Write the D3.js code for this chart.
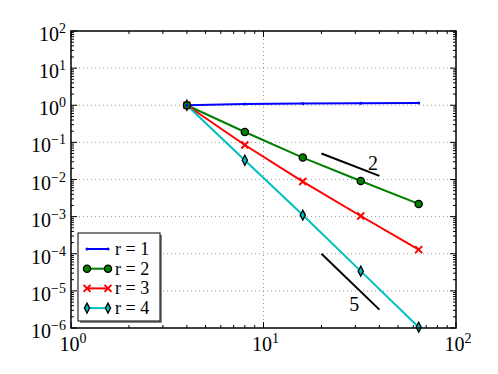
<!DOCTYPE html>
<html>
<head>
<meta charset="utf-8">
<script src="https://cdn.jsdelivr.net/npm/d3@7"></script>
<style>
  body { margin: 0; background: #fff; }
</style>
</head>
<body>
<div id="chart"></div>
<script>
// mesh sizes and errors
const hValues = [4, 8, 16, 32, 64];
const errR1 = [1, 1.08, 1.12, 1.14, 1.15];
const errR2 = [1, 0.19, 0.039, 0.0091, 0.0022];
const errR3 = [1, 0.085, 0.0088, 0.00104, 0.000129];
const errR4 = [1, 0.033, 0.0011, 0.000034, 0.00000105];
const seriesNames = ["r = 1", "r = 2", "r = 3", "r = 4"];
const xTicks = [1, 10, 100];
const yTicks = [1e-6, 1e-5, 1e-4, 1e-3, 1e-2, 1e-1, 1, 10, 100];
// reference slopes
const slope2X = [20, 40], slope2Y = [0.05, 0.0125];
const slope5X = [20, 40], slope5Y = [1e-4, 3.125e-6];
const slopeLabels = [{t: "2", x: 37, y: 0.028}, {t: "5", x: 29.6, y: 4.4e-6}];

const FONT = "'Liberation Serif', 'Times New Roman', serif";

let W = 498, H = 374;
let margin = {top: 31, right: 42, bottom: 46, left: 71};
let width = W - margin.left - margin.right;
let height = H - margin.top - margin.bottom;

let svg = d3.select("#chart").append("svg")
  .attr("width", W)
  .attr("height", H)
  .attr("font-family", FONT);

let x = d3.scaleLog().domain([1, 100]).range([0, width]);
let y = d3.scaleLog().domain([1e-6, 100]).range([height, 0]);

const g = svg.append("g").attr("transform", "translate(" + margin.left + "," + margin.top + ")");

// grid
g.append("g").selectAll("line").data(xTicks.slice(1, -1)).enter().append("line")
  .attr("x1", d => x(d)).attr("x2", d => x(d)).attr("y1", 0).attr("y2", height)
  .attr("stroke", "#999").attr("stroke-dasharray", "1,3");
g.append("g").selectAll("line").data(yTicks.slice(1, -1)).enter().append("line")
  .attr("y1", d => y(d)).attr("y2", d => y(d)).attr("x1", 0).attr("x2", width)
  .attr("stroke", "#999").attr("stroke-dasharray", "1,3");

// ticks (inward, all four sides)
let minorX = [], minorY = [];
for (let e = 0; e < 2; e++) for (let m = 2; m < 10; m++) minorX.push(m * Math.pow(10, e));
for (let e = -6; e < 2; e++) for (let m = 2; m < 10; m++) minorY.push(m * Math.pow(10, e));

const ticks = g.append("g").attr("stroke", "#000").attr("stroke-width", 1);
[[xTicks, 6], [minorX, 3]].forEach(([arr, len]) => {
  arr.forEach(v => {
    ticks.append("line").attr("x1", x(v)).attr("x2", x(v)).attr("y1", height).attr("y2", height - len);
    ticks.append("line").attr("x1", x(v)).attr("x2", x(v)).attr("y1", 0).attr("y2", len);
  });
});
[[yTicks, 6], [minorY, 3]].forEach(([arr, len]) => {
  arr.forEach(v => {
    ticks.append("line").attr("y1", y(v)).attr("y2", y(v)).attr("x1", 0).attr("x2", len);
    ticks.append("line").attr("y1", y(v)).attr("y2", y(v)).attr("x1", width).attr("x2", width - len);
  });
});

function expLabel(sel, v) {
  let e = Math.round(Math.log10(v));
  sel.append("tspan").text("10");
  sel.append("tspan").attr("dy", -8).attr("font-size", 14)
    .text(e < 0 ? "\u2212" + (-e) : e);
}

// y tick labels
yTicks.forEach(v => {
  let t = g.append("text").attr("x", -5).attr("y", y(v) + 10)
    .attr("text-anchor", "end").attr("font-size", 20);
  expLabel(t, v);
});
// x tick labels
xTicks.forEach(v => {
  let t = g.append("text").attr("x", x(v) + 2).attr("y", height + 23)
    .attr("text-anchor", "middle").attr("font-size", 20);
  expLabel(t, v);
});

// series
const allSeries = [
  {vals: errR1, color: "#0000ff", marker: "point"},
  {vals: errR2, color: "#008000", marker: "circle"},
  {vals: errR3, color: "#ff0000", marker: "x"},
  {vals: errR4, color: "#00bfbf", marker: "diamond"}
];

let line = d3.line().x(d => x(d[0])).y(d => y(d[1]));

function drawMarker(sel, type, color, cx, cy) {
  if (type === "point") {
    sel.append("circle").attr("cx", cx).attr("cy", cy).attr("r", 1.5).attr("fill", color);
  } else if (type === "circle") {
    sel.append("circle").attr("cx", cx).attr("cy", cy).attr("r", 3.6)
      .attr("fill", color).attr("stroke", "#000").attr("stroke-width", 1.3);
  } else if (type === "x") {
    let s = 3.5;
    sel.append("path").attr("d", `M${cx - s},${cy - s}L${cx + s},${cy + s}M${cx - s},${cy + s}L${cx + s},${cy - s}`)
      .attr("stroke", color).attr("stroke-width", 2);
  } else if (type === "diamond") {
    sel.append("path").attr("d", `M${cx},${cy - 5}L${cx + 2.6},${cy}L${cx},${cy + 5}L${cx - 2.6},${cy}Z`)
      .attr("fill", color).attr("stroke", "#000").attr("stroke-width", 1.3);
  }
}

allSeries.forEach(s => {
  let pts = hValues.map((h, i) => [h, s.vals[i]]);
  g.append("path").attr("d", line(pts)).attr("fill", "none")
    .attr("stroke", s.color).attr("stroke-width", 2);
});
allSeries.slice().reverse().forEach(s => {
  let mg = g.append("g");
  hValues.forEach((h, i) => drawMarker(mg, s.marker, s.color, x(h), y(s.vals[i])));
});

// slope reference lines
[[slope2X, slope2Y], [slope5X, slope5Y]].forEach(([sx, sy]) => {
  g.append("path").attr("d", line(sx.map((v, i) => [v, sy[i]])))
    .attr("stroke", "#000").attr("stroke-width", 2);
});
slopeLabels.forEach(l => {
  g.append("text").attr("x", x(l.x)).attr("y", y(l.y) + 7)
    .attr("text-anchor", "middle").attr("font-size", 20).text(l.t);
});

// frame
g.append("rect").attr("width", width).attr("height", height)
  .attr("fill", "none").attr("stroke", "#000").attr("stroke-width", 1.5);

// legend
const lg = svg.append("g").attr("transform", "translate(78,233)");
lg.append("rect").attr("x", 2).attr("y", 2).attr("width", 82).attr("height", 88).attr("fill", "#888");
lg.append("rect").attr("width", 82).attr("height", 88).attr("fill", "#fff")
  .attr("stroke", "#000").attr("stroke-width", 1);
allSeries.forEach((s, i) => {
  let ry = 16 + i * 19.7;
  lg.append("line").attr("x1", 9).attr("x2", 30).attr("y1", ry).attr("y2", ry)
    .attr("stroke", s.color).attr("stroke-width", 2);
  drawMarker(lg, s.marker, s.color, 9, ry);
  drawMarker(lg, s.marker, s.color, 30, ry);
  lg.append("text").attr("x", 37).attr("y", ry + 6).attr("font-size", 18)
    .text(seriesNames[i]);
});
</script>
</body>
</html>
